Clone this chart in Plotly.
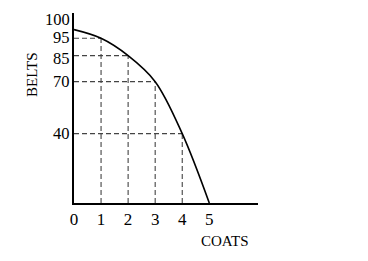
import plotly.graph_objects as go

coats = [0, 1, 2, 3, 4, 5]
belts = [100, 95, 85, 70, 40, 0]
x_ticks = [0, 1, 2, 3, 4, 5]
y_ticks = [100, 95, 85, 70, 40]
y_tick_labels = ["100", "95", "85", "70", "40"]
y_label_shift = [10, 1, -3, 0, 0]  # small nudges so labels do not collide

FONT = "Liberation Serif, Times New Roman, serif"

fig = go.Figure()

# dashed guide lines
gx, gy = [], []
for c, b in zip(coats, belts):
    if c == 0 or b == 0:
        continue
    gx += [c, c, None, 0, c, None]
    gy += [0, b, None, b, b, None]
fig.add_trace(go.Scatter(x=gx, y=gy, mode="lines",
                         line=dict(color="#444444", width=1.1, dash="5px,3px"),
                         hoverinfo="skip", showlegend=False))

# PPF curve
fig.add_trace(go.Scatter(x=coats, y=belts, mode="lines",
                         line=dict(color="black", width=1.6, shape="spline", smoothing=1.0),
                         showlegend=False))

annotations = []
for v, t, s in zip(y_ticks, y_tick_labels, y_label_shift):
    annotations.append(dict(text=t, xref="paper", yref="y", x=0, y=v, xshift=-3, yshift=s,
                            showarrow=False, xanchor="right", yanchor="middle", borderpad=0,
                            font=dict(size=16.5, family=FONT, color="black")))
annotations += [
    dict(text="BELTS", xref="paper", yref="paper", x=-0.228, y=0.674,
         showarrow=False, textangle=-90, font=dict(size=15, family=FONT, color="black"),
         xanchor="center", yanchor="middle"),
    dict(text="COATS", xref="paper", yref="paper", x=0.82, y=-0.2,
         showarrow=False, font=dict(size=15, family=FONT, color="black"),
         xanchor="center", yanchor="middle"),
]

fig.update_layout(
    width=368, height=261,
    margin=dict(l=74, r=110, t=13, b=58),
    paper_bgcolor="white", plot_bgcolor="white",
    font=dict(family=FONT, color="black"),
    xaxis=dict(range=[0, 6.8], showgrid=False, zeroline=False,
               showline=True, linecolor="black", linewidth=2,
               tickvals=x_ticks, ticktext=[str(v) for v in x_ticks],
               ticks="", tickfont=dict(size=17, family=FONT, color="black"),
               ticklabelstandoff=0),
    yaxis=dict(range=[0, 109.6], showgrid=False, zeroline=False,
               showline=True, linecolor="black", linewidth=2,
               showticklabels=False, ticks=""),
    annotations=annotations,
)

fig.write_html("out.html")
